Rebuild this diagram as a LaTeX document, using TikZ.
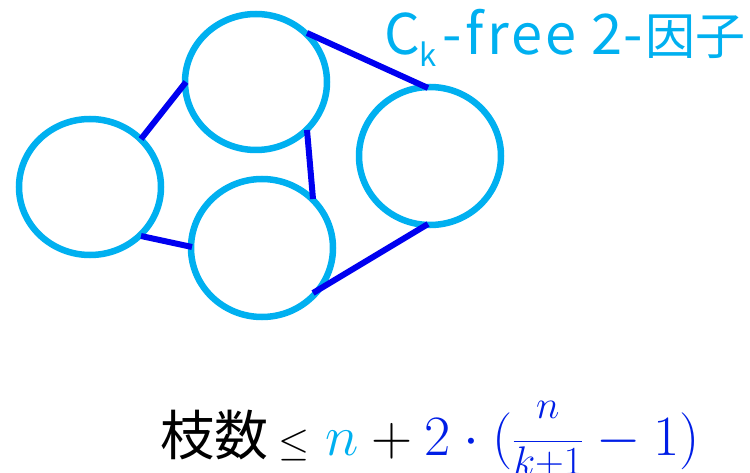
\RequirePackage{fix-cm}
\documentclass[tikz,border=0pt]{standalone}
\usepackage{fontspec}
\newfontfamily\cjk{Noto Sans CJK JP}
\definecolor{ring}{RGB}{0,176,240}
\definecolor{edge}{RGB}{0,0,240}
\definecolor{fblue}{RGB}{0,30,230}
\begin{document}
\begin{tikzpicture}[x=1pt,y=-1pt,
  ringst/.style={draw=ring,line width=6.5pt},
  edgest/.style={draw=edge,line width=6pt}]
\useasboundingbox (0,0) rectangle (750,473);
% rings
\draw[ringst] (90,187) ellipse [x radius=71, y radius=68];
\draw[ringst] (256,82) ellipse [x radius=71, y radius=68];
\draw[ringst] (430,156) ellipse [x radius=71, y radius=69];
\draw[ringst] (262,248) ellipse [x radius=71, y radius=69];
% edge end points on rings
\coordinate (a1) at (141,139); \coordinate (b1) at (186,82);
\coordinate (a2) at (141,236); \coordinate (d1) at (192,247);
\coordinate (b2) at (307,130); \coordinate (d2) at (313,199);
\coordinate (b3) at (307,33);  \coordinate (c1) at (428,88);
\coordinate (d3) at (313,293); \coordinate (c2) at (428,224);
\draw[edgest] (a1) -- (b1);
\draw[edgest] (a2) -- (d1);
\draw[edgest] (b2) -- (d2);
\draw[edgest] (b3) -- (c1);
\draw[edgest] (d3) -- (c2);
% label
\node[anchor=base west, inner sep=0, text=ring] (lab) at (384,55)
  {\cjk\fontsize{56}{64}\selectfont C\raisebox{-12pt}{\fontsize{31}{31}\selectfont k}\hspace{5pt}-\hspace{4pt}{\addfontfeature{LetterSpace=6}free}\hspace{15pt}2\hspace{1pt}-\hspace{2pt}{\fontsize{50}{50}\selectfont 因子}};
% formula
\node[anchor=base west, inner sep=0] (form) at (160,455)
  {{\fontsize{54}{60}\selectfont\cjk 枝数}\hspace{10pt}\fontsize{57}{64}\selectfont
   $\mathrel{\hbox{\fontsize{40}{40}\selectfont$\le$}}{\color{ring}n}+{\color{fblue}2\cdot(\frac{\raisebox{14pt}{$\scriptstyle n$}}{\scriptstyle k+1}-1)}$};
\end{tikzpicture}
\end{document}
